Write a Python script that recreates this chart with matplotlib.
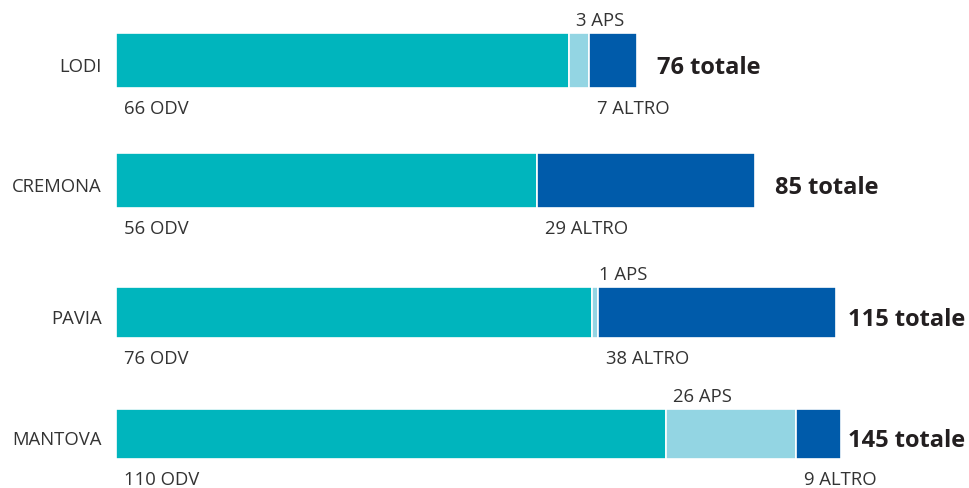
import matplotlib
matplotlib.use("Agg")
import matplotlib.pyplot as plt
from matplotlib import transforms

# data
provinces = ["LODI", "CREMONA", "PAVIA", "MANTOVA"]
odv = [66, 56, 76, 110]
aps = [3, 0, 1, 26]
altro = [7, 29, 38, 9]
totals = [76, 85, 115, 145]
# each row in the original has its own scale (x max of the row axis)
row_xmax = [124.5, 113.6, 136.4, 170.8]

col_odv = "#00b5bd"
col_aps = "#93d5e3"
col_altro = "#005baa"
txt_col = "#333333"

plt.rcParams["font.family"] = ["Open Sans", "DejaVu Sans"]

W, H = 970, 488
fig = plt.figure(figsize=(W / 100, H / 100), dpi=100)

# bar rectangles in pixels: (top, bottom)
bar_px = [(33, 88), (153, 208), (287, 338), (409, 459)]
left_px, right_px = 116, 970
fs = 13.3

for i, name in enumerate(provinces):
    top, bot = bar_px[i]
    ax = fig.add_axes([left_px / W, 1 - bot / H, (right_px - left_px) / W, (bot - top) / H])
    ax.set_xlim(0, row_xmax[i])
    ax.set_ylim(-0.5, 0.5)
    ax.axis("off")

    lefts = [0, odv[i], odv[i] + aps[i]]
    vals = [odv[i], aps[i], altro[i]]
    cols = [col_odv, col_aps, col_altro]
    for l, v, c in zip(lefts, vals, cols):
        if v > 0:
            ax.barh(0, v, left=l, height=1, color=c, edgecolor="white", linewidth=1.2)

    # province name
    name_tr = transforms.offset_copy(ax.transData, fig=fig, x=-14, y=-4, units="dots")
    ax.text(0, 0, name, transform=name_tr, ha="right", va="center_baseline",
            fontsize=fs, color=txt_col, clip_on=False)

    below = transforms.offset_copy(ax.transData, fig=fig, x=8, y=-19, units="dots")
    above = transforms.offset_copy(ax.transData, fig=fig, x=7, y=14, units="dots")
    ax.text(0, -0.5, f"{odv[i]} ODV", transform=below, ha="left", va="center_baseline",
            fontsize=fs, color=txt_col)
    ax.text(odv[i] + aps[i], -0.5, f"{altro[i]} ALTRO", transform=below, ha="left",
            va="center_baseline", fontsize=fs, color=txt_col)
    if aps[i] > 0:
        ax.text(odv[i], 0.5, f"{aps[i]} APS", transform=above, ha="left",
                va="center_baseline", fontsize=fs, color=txt_col)

    # total label, kept inside the right edge
    end_x = ax.transData.transform((totals[i], 0))[0]
    tx = min(end_x + 20, 848)
    tot_tr = transforms.offset_copy(
        transforms.blended_transform_factory(fig.transFigure, ax.transData),
        fig=fig, x=0, y=-4, units="dots")
    ax.text(tx / W, 0, f"{totals[i]} totale", transform=tot_tr,
            ha="left", va="center_baseline", fontsize=17, fontweight="bold", color="#231f20")

fig.savefig("out.png", dpi=100)
